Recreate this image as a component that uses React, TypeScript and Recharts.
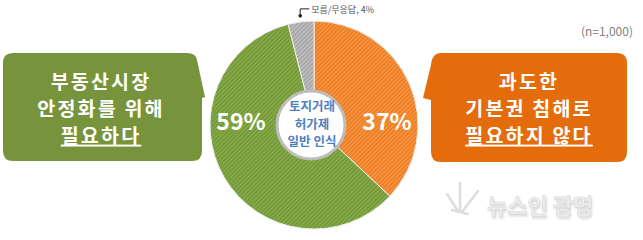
import React from 'react';
import { PieChart, Pie, Cell } from 'recharts';

// answer shares, clockwise from 12 o'clock
const answers = ['필요하지 않다', '필요하다', '모름/무응답'];
const shares = [37, 59, 4];
const sliceFills = ['url(#hatchOrange)', 'url(#hatchGreen)', 'url(#hatchGray)'];

const leftBoxLines = ['부동산시장', '안정화를 위해', '필요하다'];
const rightBoxLines = ['과도한', '기본권 침해로', '필요하지 않다'];
const centerLines = ['토지거래', '허가제', '일반 인식'];
const sampleNote = '(n=1,000)';
const watermark = '뉴스인 광명';

const data = answers.map((name, i) => ({ name, value: shares[i] }));

const RAD = Math.PI / 180;
const FONT = '"Noto Sans CJK KR", "Noto Sans", sans-serif';

const renderLabel = (props: any) => {
  const { cx, cy, midAngle, outerRadius, value, name } = props;
  if (value < 10) {
    // small slice gets a leader line up to the top
    const r = outerRadius + 6;
    const x = cx + r * Math.cos(-midAngle * RAD);
    const y = cy + r * Math.sin(-midAngle * RAD);
    return (
      <g>
        <circle cx={x} cy={y} r={1.8} fill="#222" />
        <polyline points={`${x},${y} ${x},${y - 7} ${x + 9},${y - 7}`} fill="none" stroke="#222" strokeWidth={1} />
        <text x={x + 11} y={y - 6.5} dominantBaseline="central" fontSize={9} fill="#555" fontFamily={FONT}>
          {`${name}, ${value}%`}
        </text>
      </g>
    );
  }
  const side = Math.cos(-midAngle * RAD) >= 0 ? 1 : -1;
  return (
    <text
      x={cx + side * 73}
      y={cy - 5}
      textAnchor="middle"
      dominantBaseline="central"
      fontSize={23}
      fontWeight={700}
      fill="#fff"
      fontFamily={FONT}
    >
      {`${value}%`}
    </text>
  );
};

// multi-line block as one <text> with tspans
const Lines = ({ lines, x, y, gap, underlineLast, ...rest }: any) => (
  <text x={x} y={y} textAnchor="middle" dominantBaseline="central" fontFamily={FONT} {...rest}>
    {lines.map((t: string, i: number) => (
      <tspan
        key={t}
        x={x}
        dy={i === 0 ? 0 : gap}
        textDecoration={underlineLast && i === lines.length - 1 ? 'underline' : undefined}
      >
        {t}
      </tspan>
    ))}
  </text>
);

export default function App() {
  return (
    <div style={{ position: 'absolute', left: 0, top: 0, width: 643, height: 240, background: '#fff' }}>
      <svg width={0} height={0} style={{ position: 'absolute' }}>
        <defs>
          <pattern id="hatchOrange" width="3" height="3" patternUnits="userSpaceOnUse" patternTransform="rotate(45)">
            <rect width="3" height="3" fill="#ef7f25" />
            <line x1="0.5" y1="0" x2="0.5" y2="3" stroke="#f69c4e" strokeWidth="1" />
          </pattern>
          <pattern id="hatchGreen" width="3" height="3" patternUnits="userSpaceOnUse" patternTransform="rotate(45)">
            <rect width="3" height="3" fill="#749b38" />
            <line x1="0.5" y1="0" x2="0.5" y2="3" stroke="#8daf52" strokeWidth="1" />
          </pattern>
          <pattern id="hatchGray" width="3" height="3" patternUnits="userSpaceOnUse" patternTransform="rotate(45)">
            <rect width="3" height="3" fill="#a8a8a8" />
            <line x1="0.5" y1="0" x2="0.5" y2="3" stroke="#c6c6c6" strokeWidth="1" />
          </pattern>
        </defs>
      </svg>

      <PieChart width={643} height={240} margin={{ top: 0, right: 0, bottom: 0, left: 0 }}>
        <Pie
          data={data}
          dataKey="value"
          nameKey="name"
          cx={314}
          cy={125}
          outerRadius={104}
          innerRadius={0}
          startAngle={90}
          endAngle={-270}
          stroke="#eeeeee"
          strokeWidth={1}
          label={renderLabel}
          labelLine={false}
          isAnimationActive={false}
        >
          {data.map((d, i) => (
            <Cell key={d.name} fill={sliceFills[i]} />
          ))}
        </Pie>
      </PieChart>

      <svg width={643} height={240} style={{ position: 'absolute', left: 0, top: 0, pointerEvents: 'none' }}>
        {/* left callout */}
        <path
          d="M13,53 H187 Q196,53 197,60 L205,97 L202,98 V151 Q202,161 192,161 H13 Q3,161 3,151 V63 Q3,53 13,53 Z"
          fill="#77933c"
        />
        <Lines lines={leftBoxLines} x={101} y={80} gap={26.8} underlineLast
          fontSize={19.5} fontWeight={700} letterSpacing={2.2} fill="#fff" />

        {/* right callout */}
        <path
          d="M441,53 H617 Q627,53 627,63 V152 Q627,162 617,162 H441 Q431,162 431,152 V100 L423,98 L431,65 Q432,53 441,53 Z"
          fill="#e46c0a"
        />
        <Lines lines={rightBoxLines} x={529} y={80} gap={26.8} underlineLast
          fontSize={19.5} fontWeight={700} letterSpacing={2.2} fill="#fff" />

        {/* centre disc */}
        <circle cx={311} cy={125} r={34} fill="#fff" stroke="#bdbdbd" strokeWidth={3} />
        <Lines lines={centerLines} x={312} y={105} gap={17.5}
          fontSize={12.5} fontWeight={700} fill="#4f81bd" />

        <text x={633} y={30} textAnchor="end" dominantBaseline="central" fontSize={12} fill="#808080" fontFamily={FONT}>
          {sampleNote}
        </text>

        {/* watermark */}
        <g stroke="#dadada" strokeWidth={2.5} fill="none" strokeLinecap="round" opacity={0.9}>
          <path d="M460,183 L460,210" />
          <path d="M447,194 L458,211" />
          <path d="M478,191 L462,212" />
          <path d="M452,210 L468,214" />
        </g>
        <text
          x={487}
          y={204}
          dominantBaseline="central"
          fontSize={22}
          fontWeight={700}
          fill="#ececec"
          stroke="#d4d4d4"
          strokeWidth={0.5}
          fontFamily={FONT}
          style={{ filter: 'drop-shadow(1px 2px 1px rgba(0,0,0,0.15))' }}
        >
          {watermark}
        </text>
      </svg>
    </div>
  );
}
